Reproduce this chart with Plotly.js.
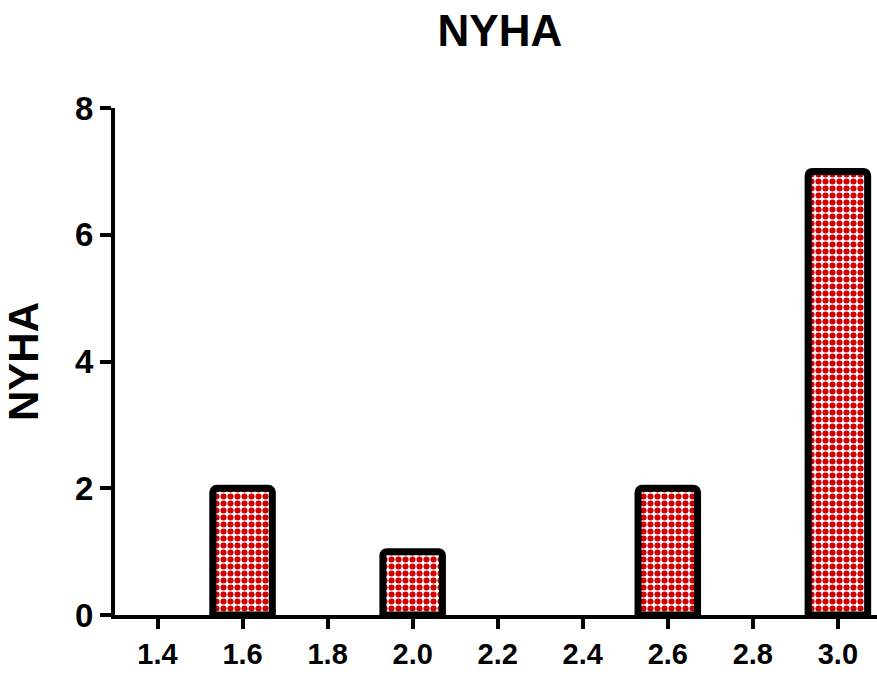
<!DOCTYPE html>
<html>
<head>
<meta charset="utf-8">
<script src="https://cdn.plot.ly/plotly-3.0.1.min.js"></script>
<style>html,body{margin:0;padding:0;background:#fff;}#chart{width:877px;height:677px;}</style>
</head>
<body>
<div id="chart"></div>
<script>
const categories = ["1.4", "1.6", "1.8", "2.0", "2.2", "2.4", "2.6", "2.8", "3.0"];
const counts = [0, 2, 0, 1, 0, 0, 2, 0, 7];
const yTicks = [0, 2, 4, 6, 8];
const chartTitle = "NYHA";
const yTitle = "NYHA";

const font = {family: "Liberation Sans, Arial, sans-serif", color: "#000"};

Plotly.newPlot("chart", [{
  type: "bar",
  x: categories,
  y: counts.map(v => v === 0 ? null : v),
  width: 0.7,
  marker: {
    color: "#ffffff",
    line: {color: "#000", width: 7},
    cornerradius: 4,
    pattern: {shape: ".", fgcolor: "#d00000", bgcolor: "#ffffff", size: 7, solidity: 0.6, fillmode: "replace"}
  },
  hoverinfo: "skip"
}], {
  width: 877, height: 677,
  margin: {l: 115, r: 0, t: 108, b: 62},
  paper_bgcolor: "#fff", plot_bgcolor: "#fff",
  showlegend: false,
  title: {text: "<b>" + chartTitle + "</b>", font: Object.assign({size: 44}, font), x: 0.57, xanchor: "center", y: 0.955, yanchor: "middle"},
  xaxis: {
    type: "category", categoryorder: "array", categoryarray: categories,
    range: [-0.5, 8.46],
    showline: true, linecolor: "#000", linewidth: 4,
    ticks: "outside", ticklen: 10, tickwidth: 4, tickcolor: "#000",
    ticklabelstandoff: 0,
    showgrid: false, zeroline: false,
    tickfont: Object.assign({size: 29, weight: "bold"}, font)
  },
  yaxis: {
    range: [0, 8], tickvals: yTicks,
    showline: true, linecolor: "#000", linewidth: 4,
    ticks: "outside", ticklen: 11, tickwidth: 4, tickcolor: "#000",
    showgrid: false, zeroline: false,
    tickfont: Object.assign({size: 33, weight: "bold"}, font),
    title: {text: "<b>" + yTitle + "</b>", font: Object.assign({size: 42}, font), standoff: 30}
  }
}, {displayModeBar: false, staticPlot: true});
</script>
</body>
</html>
